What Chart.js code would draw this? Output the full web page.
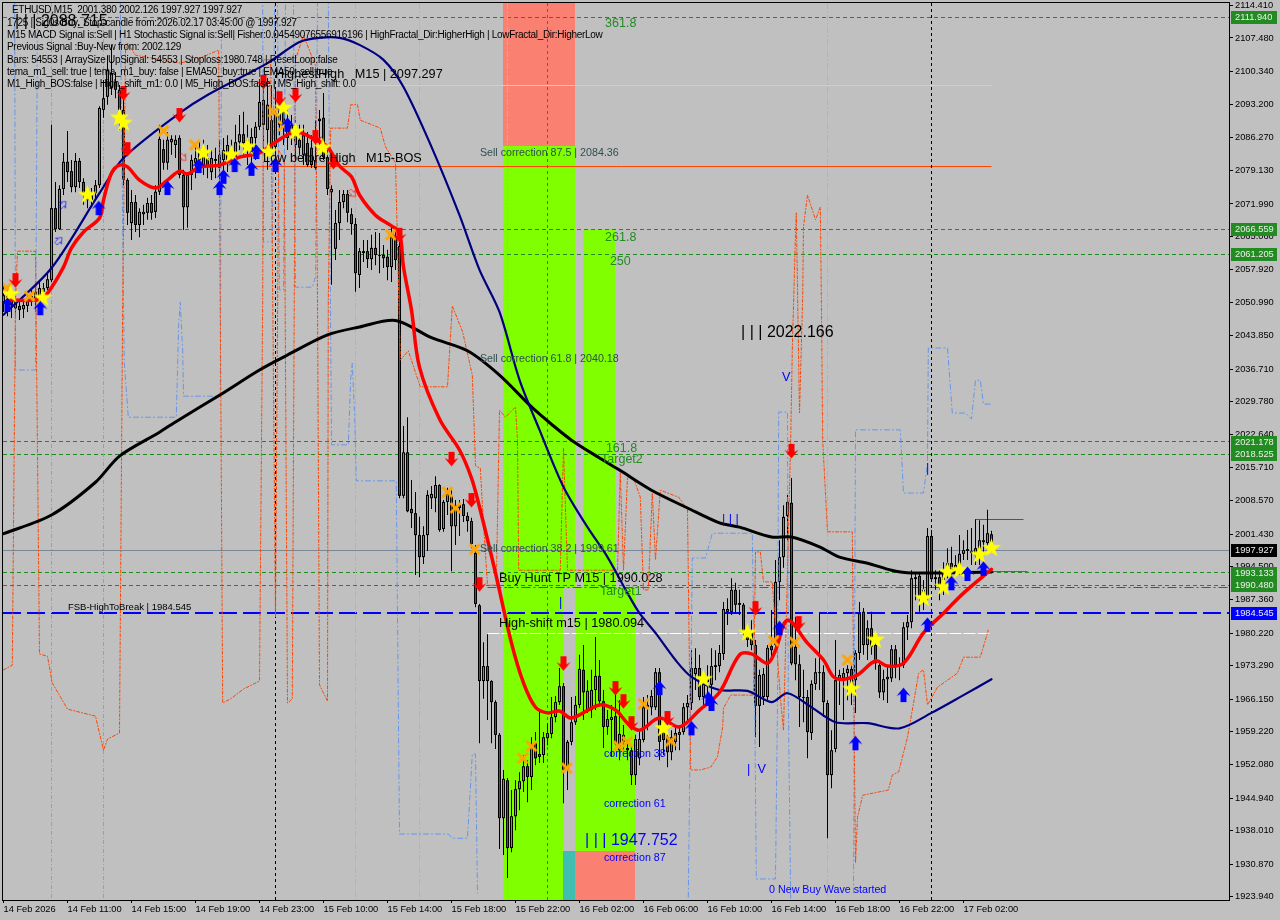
<!DOCTYPE html>
<html>
<head>
<meta charset="utf-8">
<title>ETHUSD M15</title>
<script src="https://cdn.jsdelivr.net/npm/chart.js@4"></script>
<style>
html, body { margin: 0; padding: 0; background: #c0c0c0; overflow: hidden; }
canvas { display: block; }
</style>
</head>
<body>
<canvas id="chart" width="1280" height="920"></canvas>
<script>
// candles, one entry per M15 bar
var opens = [2051.0,2052.3,2051.5,2049.7,2050.2,2049.5,2050.2,2051.7,2053.2,2052.1,
2054.0,2054.0,2055.7,2071.1,2066.6,2075.2,2081.0,2079.0,2075.6,2081.2,
2076.7,2074.3,2072.8,2074.3,2076.0,2092.1,2094.9,2096.8,2098.1,2096.4,
2092.1,2077.1,2067.9,2072.4,2067.5,2069.8,2070.1,2072.2,2070.3,2074.6,
2083.7,2080.8,2085.2,2084.6,2086.1,2078.2,2071.3,2078.2,2080.8,2083.5,
2079.7,2081.8,2078.8,2081.2,2079.7,2081.4,2081.4,2082.2,2082.0,2085.2,
2086.9,2084.0,2082.9,2086.1,2088.5,2094.2,2087.8,2083.5,2084.2,2088.9,
2091.7,2086.1,2088.9,2084.6,2085.7,2082.5,2085.0,2084.0,2081.4,2089.7,
2090.4,2082.0,2074.5,2062.4,2067.9,2072.4,2074.1,2069.8,2067.7,2056.8,
2061.5,2061.9,2060.2,2062.6,2060.9,2061.1,2060.7,2058.5,2064.9,2063.0,
2009.6,2018.9,2006.8,2005.9,2001.2,1996.5,2001.2,2009.1,2009.1,2011.9,
2002.5,2008.3,2009.6,2003.1,2007.0,2007.8,2005.3,2004.2,1997.4,1986.2,
1970.0,1973.2,1970.0,1965.5,1958.5,1940.7,1948.8,1934.3,1941.1,1946.9,
1948.6,1951.8,1949.5,1956.7,1953.8,1954.2,1957.8,1958.7,1962.3,1965.5,
1968.9,1951.0,1957.0,1961.2,1964.9,1972.4,1963.8,1963.8,1968.1,1971.1,
1965.7,1960.2,1961.7,1962.5,1955.2,1957.0,1955.2,1955.2,1949.9,1953.5,
1957.4,1964.4,1964.4,1964.4,1971.9,1960.2,1958.0,1954.8,1957.0,1958.5,
1959.1,1964.4,1965.3,1971.5,1972.8,1966.6,1970.6,1969.2,1973.0,1973.2,
1975.8,1984.8,1984.8,1989.5,1986.3,1986.3,1980.7,1980.5,1977.7,1964.7,
1966.6,1966.6,1977.5,1977.7,1991.2,1996.5,2005.3,2008.1,1977.3,1973.6,
1966.4,1966.6,1958.9,1969.4,1971.7,1971.9,1965.3,1949.9,1955.5,1970.2,
1970.6,1971.7,1972.6,1970.2,1976.0,1984.8,1977.7,1981.3,1977.7,1973.4,
1967.6,1970.4,1970.6,1976.8,1973.6,1973.4,1981.5,1982.6,1991.8,1992.5,
1988.0,1988.0,2001.0,1991.8,1992.2,1991.6,1993.1,1995.2,1993.7,1993.7,
1997.2,1997.8,1997.4,1996.9,1996.5,1999.7,1999.5,2001.38];
var closes = [2052.5,2050.6,2050.4,2051.0,2049.3,2050.4,2051.9,2052.3,2051.9,2054.0,
2053.2,2055.9,2071.1,2066.6,2075.2,2081.0,2078.8,2075.6,2081.2,2076.7,
2074.3,2072.8,2073.9,2076.0,2092.5,2094.6,2100.6,2100.0,2096.4,2092.1,
2077.1,2070.1,2072.4,2067.5,2070.3,2070.3,2072.2,2070.1,2074.6,2085.9,
2080.8,2085.7,2085.9,2085.7,2078.2,2071.3,2078.2,2081.4,2081.8,2081.4,
2082.5,2080.1,2081.8,2081.6,2082.5,2083.5,2084.6,2083.5,2085.2,2086.9,
2085.0,2085.7,2086.3,2088.5,2093.8,2088.9,2093.2,2089.9,2091.4,2093.2,
2088.9,2087.8,2086.7,2086.7,2084.0,2086.7,2080.3,2080.3,2079.7,2090.2,
2082.0,2075.2,2075.2,2067.9,2072.4,2074.1,2070.1,2067.7,2057.2,2061.9,
2061.9,2060.2,2062.6,2061.1,2061.1,2060.4,2058.5,2064.9,2060.0,2009.6,
2018.9,2006.3,2005.9,2001.2,1996.5,2001.2,2009.8,2010.0,2011.9,2002.3,
2008.3,2010.0,2003.1,2007.6,2007.6,2005.3,2004.2,1999.3,1986.5,1970.0,
1973.2,1970.0,1965.5,1958.5,1940.7,1949.1,1934.3,1941.1,1946.9,1948.6,
1951.8,1949.5,1956.3,1953.5,1954.4,1958.0,1958.9,1962.3,1965.5,1968.9,
1951.0,1957.0,1961.2,1964.9,1972.6,1967.6,1967.9,1968.1,1971.1,1965.7,
1960.2,1961.9,1962.3,1956.7,1958.7,1958.5,1955.7,1949.9,1957.6,1957.6,
1964.4,1964.9,1966.8,1971.9,1957.0,1957.4,1954.8,1958.0,1958.9,1959.1,
1964.4,1965.3,1972.8,1972.8,1966.6,1970.2,1969.8,1973.2,1973.4,1976.0,
1985.4,1985.4,1989.5,1986.3,1986.7,1980.7,1978.8,1977.7,1964.7,1971.3,
1971.5,1977.1,1976.6,1991.2,1996.5,2005.1,2008.3,1973.8,1973.6,1966.6,
1966.6,1959.1,1969.4,1971.9,1971.9,1965.5,1949.9,1955.2,1970.2,1971.3,
1971.7,1972.6,1968.7,1976.0,1984.5,1977.7,1981.3,1977.3,1973.8,1967.6,
1970.4,1970.9,1976.8,1973.4,1973.2,1981.5,1982.6,1992.0,1992.2,1988.0,
1989.5,2001.0,1991.8,1992.2,1989.9,1993.7,1995.2,1993.1,1994.8,1997.2,
1998.0,1998.2,1997.8,1998.4,2000.1,2000.1,2001.6,1997.927];
var highs = [2054.7,2053.6,2053.2,2052.3,2051.2,2051.5,2053.2,2053.6,2054.7,2055.7,
2055.1,2057.2,2088.9,2076.7,2076.0,2082.9,2087.6,2081.4,2082.9,2081.8,
2077.5,2075.0,2075.4,2077.1,2092.9,2098.5,2103.8,2106.0,2100.2,2097.4,
2095.3,2077.5,2075.0,2073.9,2071.1,2071.8,2073.3,2073.9,2076.0,2088.9,
2085.7,2087.4,2086.7,2086.7,2086.7,2079.3,2078.8,2082.5,2084.6,2085.2,
2085.7,2084.6,2083.5,2084.0,2085.7,2086.1,2086.7,2085.7,2088.9,2091.0,
2091.7,2088.9,2088.2,2089.5,2097.9,2097.4,2098.9,2097.4,2096.4,2095.3,
2094.2,2092.1,2091.0,2089.9,2088.9,2088.9,2087.4,2086.7,2089.9,2092.1,
2095.7,2083.5,2076.0,2070.7,2075.0,2075.0,2075.0,2071.1,2069.0,2062.6,
2064.3,2064.3,2065.4,2066.0,2065.8,2063.2,2062.2,2067.5,2066.9,2066.0,
2024.5,2026.4,2013.0,2010.4,2005.1,2003.1,2010.8,2011.7,2013.8,2012.1,
2008.7,2011.3,2010.8,2008.7,2008.7,2008.9,2006.1,2004.9,1999.1,1986.5,
1978.3,1980.0,1970.2,1965.9,1958.9,1951.0,1949.3,1946.7,1948.8,1950.5,
1954.2,1953.1,1958.0,1959.1,1963.4,1959.1,1961.0,1966.6,1966.8,1972.8,
1969.6,1957.4,1966.6,1966.8,1975.6,1977.7,1970.2,1972.4,1979.4,1974.5,
1968.1,1963.8,1964.9,1968.1,1965.9,1960.6,1957.4,1956.3,1958.5,1959.5,
1966.6,1967.0,1968.1,1972.8,1972.8,1961.7,1959.1,1959.5,1960.6,1960.6,
1965.3,1967.0,1976.6,1977.0,1975.6,1971.9,1973.4,1977.0,1976.6,1977.7,
1986.9,1987.7,1992.0,1991.0,1989.5,1986.7,1982.0,1983.0,1978.8,1972.4,
1972.8,1977.7,1985.2,1995.9,2000.1,2007.6,2009.8,2013.4,1983.7,1975.6,
1972.4,1968.1,1970.2,1974.9,1984.5,1973.4,1965.9,1959.5,1978.8,1972.4,
1972.8,1973.4,1973.4,1976.6,1986.9,1985.6,1983.0,1984.8,1978.8,1974.5,
1972.4,1973.4,1977.7,1977.7,1975.1,1982.6,1984.1,1993.7,1993.1,1993.1,
1991.6,2002.7,2002.3,1993.7,1993.7,1995.4,1998.4,1998.7,1996.9,2001.2,
2000.1,2002.3,2002.7,2004.6,2004.4,2003.4,2006.6,2002.126];
var lows = [2048.9,2048.0,2047.6,2047.8,2047.2,2047.6,2048.9,2050.2,2048.9,2048.9,
2051.5,2053.6,2055.3,2066.0,2066.4,2073.9,2076.7,2074.5,2074.5,2075.4,
2071.8,2071.1,2071.8,2072.8,2075.4,2090.4,2093.2,2095.3,2094.6,2087.8,
2076.0,2067.5,2064.3,2066.0,2064.9,2067.5,2068.6,2068.6,2069.0,2073.9,
2079.3,2079.3,2082.5,2081.8,2077.5,2066.4,2066.9,2075.0,2077.5,2079.3,
2078.2,2077.5,2077.1,2077.5,2076.7,2078.2,2078.8,2080.3,2079.3,2083.5,
2082.5,2080.3,2078.8,2081.4,2087.8,2083.5,2079.3,2080.3,2080.3,2086.7,
2084.6,2083.5,2084.6,2081.4,2082.5,2080.3,2079.9,2079.7,2079.3,2083.5,
2081.4,2073.9,2054.7,2060.0,2064.3,2071.1,2068.1,2065.4,2053.2,2054.0,
2059.6,2058.3,2057.9,2058.9,2057.2,2058.3,2055.7,2055.3,2057.9,2009.1,
2009.1,2006.1,2002.7,1992.7,1992.2,1995.0,1997.8,2006.8,2006.1,2001.9,
2001.9,2005.5,1993.5,1999.1,2001.0,2004.0,2001.9,1998.4,1985.8,1956.7,
1966.2,1961.7,1956.7,1955.5,1934.1,1932.8,1927.9,1933.4,1938.1,1942.4,
1946.3,1944.1,1946.7,1952.0,1952.5,1952.5,1956.3,1957.8,1961.2,1964.9,
1943.9,1946.7,1956.3,1960.6,1964.2,1961.7,1963.2,1962.1,1963.8,1964.9,
1955.7,1958.5,1953.8,1956.3,1953.1,1955.2,1953.1,1947.8,1947.8,1952.0,
1956.9,1959.5,1962.7,1963.8,1953.1,1954.2,1951.6,1953.1,1955.2,1955.2,
1958.5,1961.7,1963.8,1968.1,1965.9,1964.9,1965.9,1965.9,1970.2,1971.9,
1974.5,1982.0,1984.1,1984.5,1984.1,1979.8,1977.3,1976.6,1958.0,1955.9,
1964.9,1965.9,1974.5,1976.6,1987.3,1994.2,2000.1,1973.4,1970.2,1960.2,
1961.2,1953.5,1957.4,1968.1,1968.1,1962.3,1936.4,1947.1,1954.8,1964.9,
1961.7,1965.9,1964.9,1963.2,1974.5,1975.6,1974.5,1975.6,1972.4,1966.4,
1965.9,1965.3,1969.8,1970.6,1970.2,1972.8,1978.8,1981.3,1987.3,1984.8,
1985.2,1987.3,1991.2,1989.5,1987.3,1988.4,1992.0,1991.6,1992.7,1992.7,
1995.9,1995.9,1994.8,1994.8,1994.8,1997.6,1998.4,1997.7];

// slow EMA (black)
var emaSlowBar = [0,12,23,29,39,43,54,64,71,81,89,98,107,116,124,132,137,142,149,154,162,171,179,184,192,197,204,209,216,222,227,247];
var emaSlow = [2001.5,2005.5,2012.5,2018.1,2023.2,2025.4,2031.1,2036.5,2039.7,2044.0,2045.7,2047.1,2043.4,2040.6,2035.4,2028.6,2024.9,2021.5,2017.7,2015.1,2010.8,2007.0,2003.8,2002.9,2000.8,2000.8,1998.7,1996.5,1995.2,1993.7,1993.1,1993.3];
// mid EMA (navy)
var emaMidBar = [0,12,24,30,44,51,66,74,79,84,89,95,100,107,114,119,124,129,134,140,146,151,156,159,163,168,172,179,186,192,196,202,208,216,224,232,240,247];
var emaMid = [2048.3,2058.3,2074.3,2081.8,2091.4,2095.3,2102.1,2106.6,2107.5,2107.5,2106.0,2102.8,2097.0,2084.2,2069.6,2057.9,2048.9,2034.4,2023.7,2011.5,2002.9,1996.5,1988.8,1984.5,1980.3,1974.5,1970.9,1968.1,1967.9,1965.5,1967.4,1964.4,1961.2,1961.0,1959.9,1963.2,1967.0,1970.4];
// fast line (red)
var fastBar = [1,9,11,15,17,20,24,25,27,29,31,34,38,41,44,46,49,54,59,64,68,73,78,81,84,87,89,93,97,99,100,102,104,109,114,117,119,123,127,130,133,136,139,142,149,153,156,159,164,169,174,179,184,187,191,193,196,201,205,208,213,218,221,225,230,235,240,247];
var fastLine = [2051.5,2051.5,2052.9,2058.5,2062.6,2066.0,2069.0,2072.8,2078.6,2080.3,2079.9,2077.1,2075.4,2077.1,2079.0,2078.4,2079.9,2080.3,2082.0,2082.9,2085.2,2087.4,2085.7,2084.2,2080.1,2077.8,2073.9,2069.6,2067.3,2065.8,2058.5,2049.3,2037.1,2026.0,2019.4,2013.4,2007.2,1993.1,1978.1,1969.6,1964.4,1963.2,1963.6,1962.1,1964.9,1963.8,1961.0,1959.5,1962.1,1960.2,1963.8,1967.6,1975.6,1975.8,1973.8,1976.6,1983.0,1978.1,1974.5,1970.6,1971.1,1974.3,1973.2,1973.8,1980.3,1984.5,1988.8,1993.9];
// stepped band, orange
var upperBandBar = [0,2.2,3,3.5,8,9,11,12.2,16,23,25,26,29,29.8,30.5,31,33,44.2,49.2,53.8,54.8,56.8,60,64,64.8,65,66.8,68,68.8,70.2,71,72.2,72.5,73,75,78,78.5,79,81,81.2,81.8,86,86.8,88.5,89.2,94.2,95.5,98,99.2,101.2,104.2,111,112.2,114.8,117.2,118,119.2,119.8,121,123.2,124,125.5,128,128.5,128.8,139.2,140,141,153.5,154.2,155,156,157.5,159.2,160,161.2,162.2,163,164.2,168.8,171,171.8,174.2,176.8,178.5,179.8,180,181.8,187.5,188,189.2,190,192.2,194.2,195,196.8,197.2,198,198.2,199,199.8,200,201,203,204.2,204.5,204.8,206,212.2,212.5,213,213.5,214.8,221.2,222.2,223.8,226,227.2,228.8,230,231,233.5,238.5,240,244.2,246.2];
var upperBand = [1972.4,1973.4,2051.5,2061.9,2061.9,1975.8,1975.3,1969.6,1964.0,1962.5,1955.2,1957.6,1958.9,2051.5,2104.9,2106.4,2103.8,2102.1,2103.2,2104.9,1965.3,1966.2,1968.3,1970.0,2051.5,2102.8,2102.8,1983.7,2083.5,2081.4,1965.3,1966.2,2019.4,2102.8,2108.1,2101.5,2051.5,1969.2,1965.7,2051.5,2088.2,2088.2,2093.2,2093.2,2089.9,2088.2,2084.2,2080.8,2038.6,2040.6,2032.9,2032.9,2050.2,2044.6,2035.4,2016.0,2015.5,2006.6,1990.5,1990.5,2027.9,2026.4,2028.6,2021.5,1993.7,1993.7,2019.8,1993.7,1993.7,2014.5,1993.7,2013.6,2013.4,2009.3,1989.5,1989.5,2010.2,1995.9,2010.8,2009.3,2006.6,1951.0,1951.0,1951.6,1953.8,1960.2,1964.2,1967.0,1967.0,1997.6,1997.6,1991.2,1991.2,1966.6,1959.5,2021.5,2040.8,2065.8,2070.1,2027.3,2052.1,2067.1,2073.9,2068.6,2071.3,2049.3,2021.5,2001.9,2001.9,1973.8,1931.1,1940.9,1945.6,1946.7,1949.9,1950.6,1958.0,1963.8,1971.7,1972.4,1964.9,1968.7,1971.7,1975.1,1975.1,1980.9];
// stepped band, cornflower (null = no value there)
var lowerBandBar = [2.8,3,8,8.5,29.2,30,30.2,31.2,43.2,43.8,44.2,44.8,45,54.2,54.5,64.8,65,67.2,67.8,68.5,69,70,70.5,72.5,73,77.2,78,78.5,81.2,82,86.2,86.8,87.2,87.8,88.2,98.2,98.5,99,111.2,112.2,116,117.2,118,118.5,140,171.2,172.2,175.5,177.2,187.2,187.8,188.2,193,193.5,193.8,196,196.2,196.8,205,212.5,213,224.2,225,230,231,231.2,236,237.2,240.5,242,243,244.2,245,246.8];
var lowerBand = [2115.2,2036.5,2036.5,2115.2,2115.2,2051.5,2038.0,2026.4,2026.4,2046.3,2051.0,2040.6,2030.9,2030.9,2115.2,2115.2,2063.9,2063.9,2115.2,2115.2,2053.6,2053.6,2115.2,2115.2,2054.2,2054.2,2056.4,2115.2,2115.2,2020.5,2020.5,2034.6,2038.0,2026.2,2012.8,2012.8,1983.9,1937.3,1937.3,1936.4,1936.4,1954.4,1954.4,1924.7,null,1923.8,1996.3,1996.3,2001.6,2001.6,1965.9,1927.7,1927.7,1965.9,2027.5,2027.5,1965.9,1923.4,null,1924.7,2023.7,2023.7,2010.2,2010.2,2016.6,2041.2,2041.2,2027.3,2027.3,2026.0,2034.3,2034.3,2029.2,2029.2];

// signal marks
var starBar = [1.8,9.8,21,29,30,50,57,61,66.2,70,73,79.8,165,175,186,212,218,230,235,236,239,244,247];
var starPrice = [2052.7,2051.9,2073.9,2090.4,2089.3,2082.9,2082.5,2084.2,2083.1,2092.5,2087.4,2084.0,1959.9,1970.4,1980.3,1968.3,1978.8,1987.7,1990.1,1993.3,1993.7,1997.0,1998.4];
var crossBar = [0.8,6.5,40,47.8,67.5,70,96.8,111,113,117.8,129.8,132,140.8,153.8,156,160,166.8,192.5,197.8,211];
var crossPrice = [2054.0,2052.3,2087.6,2084.6,2091.7,2088.7,2065.4,2010.4,2007.0,1998.2,1953.5,1956.1,1951.4,1956.1,1957.0,1965.1,1957.2,1978.6,1978.3,1974.5];
var sellBar = [3,30,31,44,65,69,73,78,82.5,99,112,117,119,140,153,155,157,166,188,197,198.8];
var sellPrice = [2055.7,2095.7,2083.7,2091.0,2098.1,2094.6,2095.3,2086.3,2081.0,2065.4,2017.5,2008.7,1990.7,1973.8,1968.5,1965.7,1961.0,1962.1,1985.6,2019.2,1982.4];
var buyBar = [1,9.2,23.8,41,48.8,54,55,57.8,62,63.2,68,71,164,172,176.2,177,194,213,225,231,237,241,245];
var buyPrice = [2050.4,2049.7,2071.1,2075.4,2080.1,2075.4,2077.8,2080.3,2079.5,2083.1,2080.3,2088.9,1968.5,1959.9,1966.2,1965.1,1981.3,1956.7,1967.0,1982.0,1990.9,1992.9,1994.0];
var hollowBuyBar = [13.8,14.8];
var hollowBuyPrice = [2064.1,2071.8];
var hollowSellBar = [44.8,87.2];
var hollowSellPrice = [2082.0,2074.3];

// axes
var yTicks = [2114.41,2107.48,2100.34,2093.2,2086.27,2079.13,2071.99,2065.06,2057.92,2050.99,2043.85,2036.71,2029.78,2022.64,2015.71,2008.57,2001.43,1994.5,1987.36,1980.22,1973.29,1966.15,1959.22,1952.08,1944.94,1938.01,1930.87,1923.94];
var xLabels = ['14 Feb 2026','14 Feb 11:00','14 Feb 15:00','14 Feb 19:00','14 Feb 23:00','15 Feb 10:00','15 Feb 14:00','15 Feb 18:00','15 Feb 22:00','16 Feb 02:00','16 Feb 06:00','16 Feb 10:00','16 Feb 14:00','16 Feb 18:00','16 Feb 22:00','17 Feb 02:00'];
var barsPerLabel = 16;

// horizontal levels
var greenLevels = [2111.94,2066.559,2061.205,2021.178,2018.525,1993.133,1990.48];
var segValue = [1997.927,1984.545,2097.297,2079.9,1980.094,1990.028,2004.6,1993.5];
var segFrom = [-1,-1,68,62,121,121,243,247];
var segTo = [307,307,247,247,247,307,255,256];
var segColor = ['#778899','#0000ff','#adff2f','#ff4500','#ffffff','#dc143c','#dc143c','#9932cc'];
var segDash = [[],[18,6],[],[],[12,2],[9,3,2,3],[],[]];

// vertical markers
var vBar = [68,232,88,104,126,206,12,25,136];
var vColor = ['#000000','#000000','#00ffff','#00ffff','#00ffff','#00ffff','#ff69b4','#ff69b4','#9932cc'];
var vDash = [[3,3],[3,3],[6,2,2,2],[6,2,2,2],[6,2,2,2],[6,2,2,2],[4,2,1,2],[4,2,1,2],[3,3]];

// boxes: from bar, to bar, top price, bottom price
var zoneFrom = [125,125,125,145,143,143,140];
var zoneTo = [143,143,140,153,158,158,143];
var zoneTop = [2115,2084.36,1990.2,2066.559,1990.2,1933.7,1933.7];
var zoneBottom = [2084.36,1990.2,1923,1990.2,1933.7,1923,1923];
var zoneColor = ['#fa8072','#7fff00','#7fff00','#7fff00','#7fff00','#fa8072','#40bfb0'];

// price tags on the right edge
var tagValue = [2111.94,2066.559,2061.205,2021.178,2018.525,1997.927,1993.133,1990.48,1984.545];
var tagColor = ['#228b22','#228b22','#228b22','#228b22','#228b22','#000000','#228b22','#228b22','#0000ff'];

// text objects: string, bar, price, font, colour
var big = '16px "Liberation Sans"', mid = '12.7px "Liberation Sans"', small = '10.7px "Liberation Sans"', lvl = '12.5px "Liberation Sans"';
var notes = [
    ['| | | 2088.715', 2.9, 2110.9, big, '#000000'],
    ['HighestHigh   M15 | 2097.297', 67.9, 2099.6, mid, '#000000'],
    ['Low before High   M15-BOS', 64.9, 2081.8, mid, '#000000'],
    ['Sell correction 87.5 | 2084.36', 119.1, 2082.9, small, '#2f4f4f'],
    ['Sell correction 61.8 | 2040.18', 119.1, 2038.8, small, '#2f4f4f'],
    ['Sell correction 38.2 | 1999.61', 119.1, 1998.2, small, '#2f4f4f'],
    ['361.8', 150.4, 2110.5, lvl, '#228b22'],
    ['261.8', 150.4, 2064.9, lvl, '#228b22'],
    ['250', 151.6, 2059.6, lvl, '#228b22'],
    ['161.8', 150.6, 2019.6, lvl, '#228b22'],
    ['Target2', 149.4, 2017.3, lvl, '#228b22'],
    ['Target1', 149.1, 1989.1, lvl, '#228b22'],
    ['| | | 2022.166', 184.4, 2044.6, big, '#000000'],
    ['V', 194.6, 2035.0, mid, '#0000ff'],
    ['Buy Hunt TP M15 | 1990.028', 123.9, 1992.0, mid, '#000000'],
    ['High-shift m15 | 1980.094', 123.9, 1982.4, mid, '#000000'],
    ['FSB-HighToBreak | 1984.545', 16.1, 1985.8, '9.5px "Liberation Sans"', '#000000'],
    ['correction 38', 150.1, 1954.4, small, '#0000ff'],
    ['correction 61', 150.1, 1943.7, small, '#0000ff'],
    ['correction 87', 150.1, 1932.1, small, '#0000ff'],
    ['| | | 1947.752', 145.4, 1936.0, big, '#0000ff'],
    ['|  V', 185.9, 1951.2, mid, '#0000ff'],
    ['0 New Buy Wave started', 191.4, 1925.3, small, '#0000ff'],
    ['| | |', 179.6, 2004.6, mid, '#0000ff'],
    ['|', 230.6, 2015.5, mid, '#0000ff'],
    ['|', 138.9, 1986.9, mid, '#0000ff']
];

var infoLines = [
    '  ETHUSD,M15  2001.380 2002.126 1997.927 1997.927',
    '1725 | Sig0s Buy_Stop-candle from:2026.02.17 03:45:00 @ 1997.927',
    'M15 MACD Signal is:Sell | H1 Stochastic Signal is:Sell| Fisher:0.04549076556916196 | HighFractal_Dir:HigherHigh | LowFractal_Dir:HigherLow',
    'Previous Signal :Buy-New from: 2002.129',
    'Bars: 54553 | ArraySize UpSignal: 54553 | Stoploss:1980.748 | ResetLoop:false',
    'tema_m1_sell: true | tema_m1_buy: false | EMA50_buy:true | EMA50_sell:true',
    'M1_High_BOS:false | High_shift_m1: 0.0 | M5_High_BOS:false | M5_High_shift: 0.0'
];

function points(xs, ys) {
    var out = [];
    for (var i = 0; i < xs.length; i++) out.push({ x: xs[i], y: ys[i] });
    return out;
}

// little sprites for the signal marks
function sprite(w, h, draw) {
    var c = document.createElement('canvas');
    c.width = w;
    c.height = h;
    draw(c.getContext('2d'), w, h);
    return c;
}
var starIcon = sprite(21, 21, function (g) {
    g.beginPath();
    for (var k = 0; k < 10; k++) {
        var r = k % 2 ? 3.9 : 10;
        var a = -Math.PI / 2 + k * Math.PI / 5;
        g.lineTo(10.5 + r * Math.cos(a), 10.5 + r * Math.sin(a));
    }
    g.closePath();
    g.fillStyle = '#ffff00';
    g.fill();
});
var crossIcon = sprite(13, 13, function (g) {
    g.strokeStyle = '#ffa500';
    g.lineWidth = 3;
    g.beginPath();
    g.moveTo(1.5, 1.5); g.lineTo(11.5, 11.5);
    g.moveTo(11.5, 1.5); g.lineTo(1.5, 11.5);
    g.stroke();
});
function arrowShape(g, color, hollow) {
    g.beginPath();
    g.moveTo(7.5, 0.5);
    g.lineTo(14.5, 9);
    g.lineTo(10.5, 7);
    g.lineTo(10.5, 15);
    g.lineTo(4.5, 15);
    g.lineTo(4.5, 7);
    g.lineTo(0.5, 9);
    g.closePath();
    if (hollow) {
        g.strokeStyle = color;
        g.lineWidth = 1;
        g.stroke();
    } else {
        g.fillStyle = color;
        g.fill();
    }
}
var buyIcon = sprite(15, 16, function (g) { arrowShape(g, '#0000ff'); });
var sellIcon = sprite(15, 16, function (g) {
    g.translate(0, 16); g.scale(1, -1);
    arrowShape(g, '#ff0000');
});
var hollowBuyIcon = sprite(15, 16, function (g) {
    g.translate(7.5, 8); g.rotate(Math.PI / 4); g.translate(-7.5, -8);
    g.save(); g.translate(3, 3); g.scale(0.6, 0.6);
    arrowShape(g, '#0000ff', true);
    g.restore();
});
var hollowSellIcon = sprite(15, 16, function (g) {
    g.translate(7.5, 8); g.rotate(Math.PI * 0.75); g.translate(-7.5, -8);
    g.save(); g.translate(3, 3); g.scale(0.6, 0.6);
    arrowShape(g, '#ff0000', true);
    g.restore();
});

// one price pixel on this axis, the coloured core stops that short of the black cap
var capPrice = 0.214;
var wicks = [], shells = [], cores = [], coreColors = [];
opens.forEach(function (o, i) {
    var hi = Math.max(o, closes[i]), lo = Math.min(o, closes[i]);
    wicks.push({ x: i, y: [lows[i], highs[i]] });
    shells.push({ x: i, y: [lo, hi] });
    if (hi - lo > capPrice * 2) {
        cores.push({ x: i, y: [lo + capPrice, hi - capPrice] });
    } else {
        cores.push({ x: i, y: [lo, lo] });
    }
    coreColors.push(closes[i] >= o ? '#3cb371' : '#dc143c');
});

function lineSet(xs, ys, color, width, order, dash, tension) {
    return {
        type: 'line', data: points(xs, ys), borderColor: color, borderWidth: width,
        borderDash: dash || [], pointRadius: 0, fill: false, tension: tension || 0, order: order,
        borderJoinStyle: 'round', borderCapStyle: 'round', spanGaps: false
    };
}
function markSet(xs, ys, icon, order) {
    return {
        type: 'line', data: points(xs, ys), showLine: false, pointStyle: icon,
        pointRadius: 6, order: order
    };
}

// zones and levels go under the candles
var backdrop = {
    id: 'backdrop',
    // layout keeps room for the edge tick labels, the terminal window does not
    afterLayout: function (chart) {
        var a = chart.chartArea, sx = chart.scales.x, sy = chart.scales.y;
        a.left = 3; a.top = 3; a.right = 1229; a.bottom = 900;
        a.width = 1226; a.height = 897;
        sx.left = 3; sx.right = 1229; sx.width = 1226; sx.top = 900; sx.bottom = 920; sx.height = 20;
        sy.left = 1229; sy.right = 1280; sy.width = 51; sy.top = 3; sy.bottom = 900; sy.height = 897;
        sx.configure();
        sy.configure();
    },
    beforeDatasetsDraw: function (chart) {
        var g = chart.ctx, sx = chart.scales.x, sy = chart.scales.y, a = chart.chartArea, i, y, x;
        g.save();
        g.beginPath();
        g.rect(a.left, a.top, a.width, a.height);
        g.clip();
        for (i = 0; i < zoneFrom.length; i++) {
            var x0 = Math.round(sx.getPixelForValue(zoneFrom[i]) - 0.5);
            var x1 = Math.round(sx.getPixelForValue(zoneTo[i]) - 0.5);
            var y0 = Math.round(sy.getPixelForValue(zoneTop[i]));
            var y1 = Math.round(sy.getPixelForValue(zoneBottom[i]));
            g.fillStyle = zoneColor[i];
            g.fillRect(x0, y0, x1 - x0, y1 - y0);
        }
        g.lineWidth = 1;
        for (i = 0; i < greenLevels.length; i++) {
            y = Math.floor(sy.getPixelForValue(greenLevels[i])) + 0.5;
            g.strokeStyle = '#1e8b1e';
            g.setLineDash([4, 3]);
            g.beginPath();
            g.moveTo(a.left, y);
            g.lineTo(a.right, y);
            g.stroke();
        }
        for (i = 0; i < segValue.length; i++) {
            var thick = i === 1;
            y = thick ? Math.round(sy.getPixelForValue(segValue[i])) : Math.floor(sy.getPixelForValue(segValue[i])) + 0.5;
            g.strokeStyle = segColor[i];
            g.setLineDash(segDash[i]);
            g.lineWidth = thick ? 2 : 1;
            g.beginPath();
            g.moveTo(Math.max(a.left, sx.getPixelForValue(segFrom[i])), y);
            g.lineTo(Math.min(a.right, sx.getPixelForValue(segTo[i])), y);
            g.stroke();
        }
        g.lineWidth = 1;
        for (i = 0; i < vBar.length; i++) {
            x = sx.getPixelForValue(vBar[i]);
            g.strokeStyle = vColor[i];
            g.setLineDash(vDash[i]);
            g.beginPath();
            g.moveTo(x, a.top);
            g.lineTo(x, a.bottom);
            g.stroke();
        }
        g.restore();
    },
    afterDatasetsDraw: function (chart) {
        var g = chart.ctx, sx = chart.scales.x, sy = chart.scales.y;
        g.save();
        g.textBaseline = 'middle';
        g.textAlign = 'left';
        notes.forEach(function (n) {
            g.font = n[3];
            g.fillStyle = n[4];
            g.fillText(n[0], sx.getPixelForValue(n[1]), sy.getPixelForValue(n[2]));
        });
        g.font = '10px "Liberation Sans"';
        g.letterSpacing = '-0.3px';
        g.fillStyle = '#000000';
        infoLines.forEach(function (line, k) {
            g.fillText(line, 7, k === 0 ? 10.5 : 23.5 + (k - 1) * 12.1);
        });
        g.restore();
    },
    afterDraw: function (chart) {
        var g = chart.ctx, sy = chart.scales.y, a = chart.chartArea;
        g.save();
        g.strokeStyle = '#000000';
        g.lineWidth = 1;
        g.strokeRect(a.left - 0.5, a.top - 0.5, a.right - a.left + 1, a.bottom - a.top + 1);
        g.font = '9.3px "Liberation Sans"';
        g.textBaseline = 'middle';
        g.textAlign = 'left';
        tagValue.forEach(function (v, k) {
            var y = Math.round(sy.getPixelForValue(v));
            g.fillStyle = tagColor[k];
            g.fillRect(1231, y - 6, 46, 13);
            g.fillStyle = '#eeeeee';
            g.fillText(v.toFixed(3), 1235, y + 0.5);
        });
        g.restore();
    }
};

new Chart(document.getElementById('chart'), {
    type: 'bar',
    data: {
        datasets: [
            markSet(starBar, starPrice, starIcon, 1),
            markSet(crossBar, crossPrice, crossIcon, 2),
            markSet(buyBar, buyPrice, buyIcon, 0),
            markSet(sellBar, sellPrice, sellIcon, 0),
            markSet(hollowBuyBar, hollowBuyPrice, hollowBuyIcon, 3),
            markSet(hollowSellBar, hollowSellPrice, hollowSellIcon, 3),
            lineSet(fastBar, fastLine, '#ff0000', 3.5, 4, [], 0.35),
            lineSet(emaMidBar, emaMid, '#000080', 2.2, 5, [], 0.3),
            lineSet(emaSlowBar, emaSlow, '#000000', 3, 6, [], 0.3),
            lineSet(upperBandBar, upperBand, '#ff4500', 1, 7, [3, 2, 1, 2]),
            lineSet(lowerBandBar, lowerBand, '#6495ed', 1, 8, [5, 3, 1, 3]),
            {
                data: cores, backgroundColor: coreColors, borderWidth: 0,
                barThickness: 1, grouped: false, inflateAmount: 0, order: 9
            },
            {
                data: shells, backgroundColor: '#000000', borderWidth: 0,
                barThickness: 3, grouped: false, inflateAmount: 0, order: 10
            },
            {
                data: wicks, backgroundColor: '#000000', borderWidth: 0,
                barThickness: 1, grouped: false, inflateAmount: 0, order: 11
            }
        ]
    },
    options: {
        responsive: false,
        animation: false,
        events: [],
        plugins: { legend: { display: false }, tooltip: { enabled: false } },
        scales: {
            x: {
                type: 'linear',
                min: -0.125,
                max: 306.375,
                offset: false,
                border: { display: false },
                grid: { drawOnChartArea: false, drawTicks: true, tickLength: 3, color: '#000000', offset: false },
                afterBuildTicks: function (scale) {
                    scale.ticks = xLabels.map(function (l, k) { return { value: k * barsPerLabel }; });
                },
                afterFit: function (scale) { scale.height = 20; },
                ticks: {
                    autoSkip: false,
                    maxRotation: 0,
                    minRotation: 0,
                    align: 'start',
                    padding: 1,
                    color: '#000000',
                    font: { family: 'Liberation Sans', size: 9.3 },
                    callback: function (value) { return xLabels[Math.round(value / barsPerLabel)]; }
                }
            },
            y: {
                type: 'linear',
                position: 'right',
                min: 1923.2,
                max: 2114.95,
                border: { display: false },
                grid: { drawOnChartArea: false, drawTicks: true, tickLength: 4, color: '#000000' },
                afterBuildTicks: function (scale) {
                    scale.ticks = yTicks.map(function (v) { return { value: v }; });
                },
                afterFit: function (scale) { scale.width = 51; },
                ticks: {
                    autoSkip: false,
                    padding: 2,
                    color: '#000000',
                    font: { family: 'Liberation Sans', size: 9.3 },
                    callback: function (value) { return value.toFixed(3); }
                }
            }
        }
    },
    plugins: [backdrop]
});
</script>
</body>
</html>
